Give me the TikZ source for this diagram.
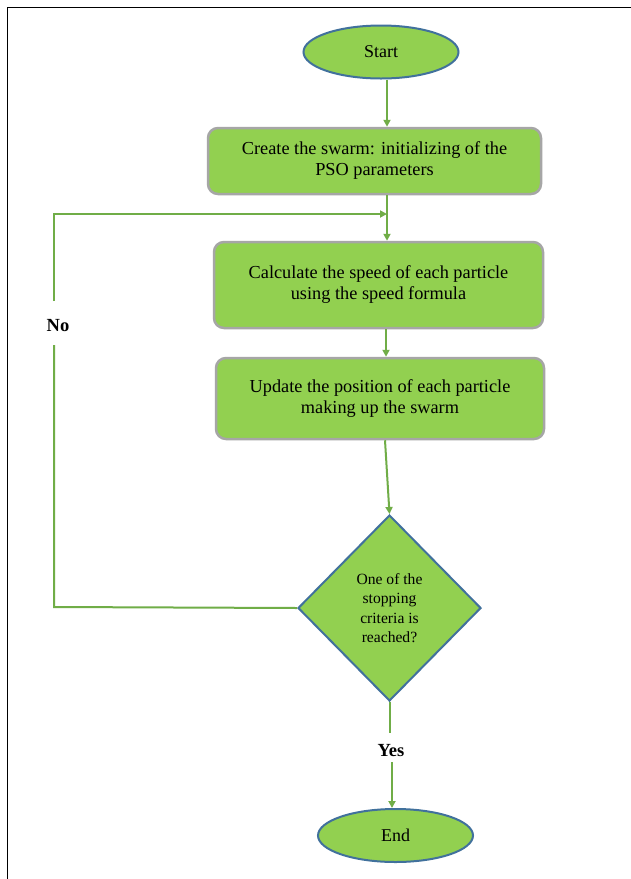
\documentclass[tikz,border=0pt]{standalone}
\usepackage{fontspec}
\setmainfont{Liberation Serif}
\usetikzlibrary{shapes.geometric,arrows.meta}
\definecolor{fillg}{HTML}{92D050}
\definecolor{lineg}{HTML}{70AD47}
\definecolor{edgeb}{HTML}{41719C}
\definecolor{edgeg}{HTML}{A6A6A6}
\tikzset{
  term/.style={ellipse, draw=edgeb, fill=fillg, line width=2pt, minimum width=155pt, minimum height=53pt, inner sep=0pt, font=\fontsize{18}{21}\selectfont},
  procbox/.style={rectangle, rounded corners=10pt, draw=edgeg, fill=fillg, line width=2.5pt, align=center, inner sep=0pt, font=\fontsize{18.3}{21}\selectfont},
  decis/.style={diamond, draw=edgeb, fill=fillg, line width=2pt, minimum width=183pt, minimum height=186pt, inner sep=0pt, align=center, font=\fontsize{15.6}{19.3}\selectfont},
  conn/.style={draw=lineg, line width=2pt, -{Triangle[length=7pt,width=7pt]}},
  plainconn/.style={draw=lineg, line width=2pt},
  lbl/.style={font=\fontsize{18.5}{21}\selectfont\bfseries, fill=white, inner sep=0pt}
}
\begin{document}
\begin{tikzpicture}[x=1pt,y=-1pt]
\useasboundingbox (0,0) rectangle (631,879);
\fill[white] (0,0) rectangle (631,879);
\draw[black, line width=1.5pt] (631,7.5) -- (7.5,7.5) -- (7.5,879);

\node[term] (start) at (381,52) {Start};
\node[procbox, minimum width=333pt, minimum height=66pt] (b1) at (374.5,161) {Create the swarm: initializing of the\\PSO parameters};
\node[procbox, minimum width=329pt, minimum height=86pt] (b2) at (378.5,285) {Calculate the speed of each particle\\using the speed formula};
\node[procbox, minimum width=328pt, minimum height=81pt] (b3) at (380,398.5) {Update the position of each particle\\making up the swarm};
\node[decis] (dec) at (389.5,608) {One of the\\stopping\\criteria is\\reached?};
\node[term] (end) at (395.5,835.5) {End};

\coordinate (j) at (387,214);
\coordinate (lt) at (54,214);
\coordinate (lb) at (54,607);
\coordinate (yesa) at (389.5,733);
\coordinate (yesb) at (392,762);
\coordinate (noa) at (54,301);
\coordinate (nob) at (54,345);

\draw[conn] (start.south -| 387,0) -- (b1.north -| 387,0);
\draw[plainconn] (b1.south -| j) -- (j);
\draw[conn] (j) -- (b2.north -| j);
\draw[conn] (b2.south -| 386,0) -- (b3.north -| 386,0);
\draw[conn] (b3.south -| 385,0) -- (dec.north);
\draw[plainconn] (dec.west) -- (lb) -- (nob);
\draw[conn] (noa) -- (lt) -- (j);
\node[lbl] (no) at (58,326) {No};
\draw[plainconn] (dec.south) -- (yesa);
\node[lbl] (yes) at (391,751) {Yes};
\draw[conn] (yesb) -- (end.north -| yesb);
\end{tikzpicture}
\end{document}
